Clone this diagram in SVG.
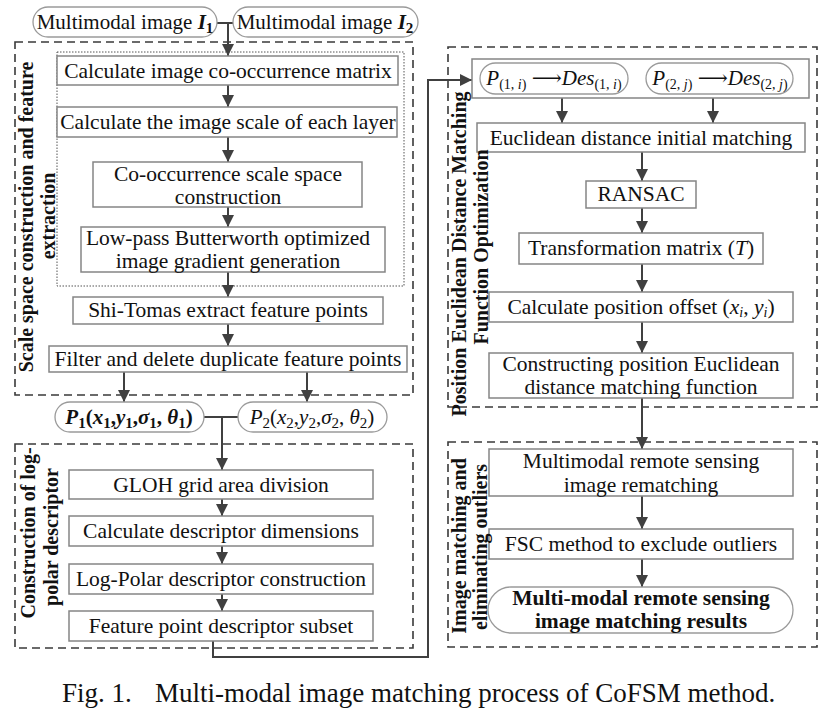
<svg xmlns="http://www.w3.org/2000/svg" width="836" height="715" viewBox="0 0 836 715" font-family="'Liberation Serif', 'DejaVu Serif', serif">
<defs>
<marker id="ah" viewBox="0 0 12 12" markerWidth="12" markerHeight="12" refX="12" refY="6" orient="auto" markerUnits="userSpaceOnUse">
<path d="M0,0 L12,6 L0,12 z" fill="#404040"/>
</marker>
<style>
text{font-family:'Liberation Serif','DejaVu Serif',serif;fill:#111;}
.t{font-size:21.5px;text-anchor:middle;}
.lbl{font-size:20px;font-weight:bold;text-anchor:middle;}
.box{fill:#fff;stroke:#858585;stroke-width:1.5;}
.pill{fill:#fff;stroke:#9a9a9a;stroke-width:1.3;}
.grp{fill:none;stroke:#3a3a3a;stroke-width:1.6;stroke-dasharray:8,5;}
.dot{fill:none;stroke:#555;stroke-width:1;stroke-dasharray:1.5,1.5;}
.c{fill:none;stroke:#404040;stroke-width:2;}
.ca{fill:none;stroke:#404040;stroke-width:2;marker-end:url(#ah);}
.bi{font-weight:bold;font-style:italic;}
.i{font-style:italic;}
</style>
</defs>

<g id="groups">
<rect class="grp" x="15" y="42" width="398" height="353"/>
<rect class="dot" x="57" y="52" width="347" height="234"/>
<rect class="grp" x="15" y="444" width="398" height="204"/>
<rect class="grp" x="448" y="47" width="369" height="360"/>
<rect class="grp" x="448" y="442" width="369" height="205"/>
</g>

<g id="connectors">
<path class="c" d="M217,23 H233"/>
<path class="ca" d="M228,23 V56"/>
<path class="ca" d="M228,85 V107"/>
<path class="ca" d="M228,137 V162"/>
<path class="ca" d="M228,207 V227"/>
<path class="ca" d="M228,272 V297"/>
<path class="ca" d="M228,324 V346"/>
<path class="ca" d="M124,372 V402"/>
<path class="ca" d="M307,372 V402"/>
<path class="c" d="M204,417 H238"/>
<path class="ca" d="M222,417 V470"/>
<path class="ca" d="M222,499 V516"/>
<path class="ca" d="M222,546 V564"/>
<path class="ca" d="M222,594 V611"/>
<path class="ca" d="M213,641 V657 H428 V80 H472"/>
<path class="ca" d="M562,98 V123"/>
<path class="ca" d="M713,98 V123"/>
<path class="ca" d="M642,152 V181"/>
<path class="ca" d="M642,208 V233"/>
<path class="ca" d="M642,264 V292"/>
<path class="ca" d="M642,322 V353"/>
<path class="ca" d="M642,398 V449"/>
<path class="ca" d="M642,496 V529"/>
<path class="ca" d="M642,559 V587"/>
</g>

<g id="img1">
<rect class="pill" x="33" y="7" width="184" height="30" rx="15"/>
<text class="t" x="125" y="29" style="font-size:21px">Multimodal image <tspan class="bi">I</tspan><tspan style="font-weight:bold;font-size:15px" dy="4">1</tspan></text>
</g>
<g id="img2">
<rect class="pill" x="233" y="7" width="185" height="30" rx="15"/>
<text class="t" x="325" y="29" style="font-size:21px">Multimodal image <tspan class="bi">I</tspan><tspan style="font-weight:bold;font-size:15px" dy="4">2</tspan></text>
</g>

<g id="n1"><rect class="box" x="57" y="56" width="341" height="29"/><text class="t" x="228" y="78">Calculate image co-occurrence matrix</text></g>
<g id="n2"><rect class="box" x="57" y="107" width="340" height="30"/><text class="t" x="228" y="129">Calculate the image scale of each layer</text></g>
<g id="n3"><rect class="box" x="93" y="162" width="269" height="45"/><text class="t" x="228" y="181">Co-occurrence scale space</text><text class="t" x="228" y="204">construction</text></g>
<g id="n4"><rect class="box" x="81" y="227" width="304" height="45"/><text class="t" x="228" y="245">Low-pass Butterworth optimized</text><text class="t" x="228" y="268">image gradient generation</text></g>
<g id="n5"><rect class="box" x="73" y="297" width="310" height="27"/><text class="t" x="228" y="317">Shi-Tomas extract feature points</text></g>
<g id="n6"><rect class="box" x="49" y="346" width="358" height="26"/><text class="t" x="228" y="366">Filter and delete duplicate feature points</text></g>

<g id="p1">
<rect class="pill" x="55" y="402" width="149" height="30" rx="15"/>
<text class="t" x="129" y="424" style="font-size:21px"><tspan class="bi">P</tspan><tspan style="font-weight:bold;font-size:15px" dy="4">1</tspan><tspan style="font-weight:bold" dy="-4">(</tspan><tspan class="bi">x</tspan><tspan style="font-weight:bold;font-size:15px" dy="4">1</tspan><tspan style="font-weight:bold" dy="-4">,</tspan><tspan class="bi">y</tspan><tspan style="font-weight:bold;font-size:15px" dy="4">1</tspan><tspan style="font-weight:bold" dy="-4">,</tspan><tspan class="bi">σ</tspan><tspan style="font-weight:bold;font-size:15px" dy="4">1</tspan><tspan style="font-weight:bold" dy="-4">, </tspan><tspan class="bi">θ</tspan><tspan style="font-weight:bold;font-size:15px" dy="4">1</tspan><tspan style="font-weight:bold" dy="-4">)</tspan></text>
</g>
<g id="p2">
<rect class="pill" x="238" y="402" width="149" height="30" rx="15"/>
<text class="t" x="312" y="424" style="font-size:21px"><tspan class="i">P</tspan><tspan style="font-size:15px" dy="4">2</tspan><tspan dy="-4">(</tspan><tspan class="i">x</tspan><tspan style="font-size:15px" dy="4">2</tspan><tspan dy="-4">,</tspan><tspan class="i">y</tspan><tspan style="font-size:15px" dy="4">2</tspan><tspan dy="-4">,</tspan><tspan class="i">σ</tspan><tspan style="font-size:15px" dy="4">2</tspan><tspan dy="-4">, </tspan><tspan class="i">θ</tspan><tspan style="font-size:15px" dy="4">2</tspan><tspan dy="-4">)</tspan></text>
</g>

<g id="d1"><rect class="box" x="69" y="470" width="304" height="29"/><text class="t" x="221" y="492">GLOH grid area division</text></g>
<g id="d2"><rect class="box" x="69" y="516" width="304" height="30"/><text class="t" x="221" y="538">Calculate descriptor dimensions</text></g>
<g id="d3"><rect class="box" x="69" y="564" width="304" height="30"/><text class="t" x="221" y="586">Log-Polar descriptor construction</text></g>
<g id="d4"><rect class="box" x="69" y="611" width="304" height="30"/><text class="t" x="221" y="633">Feature point descriptor subset</text></g>

<g id="des">
<rect class="box" x="472" y="59" width="337" height="39"/>
<rect class="pill" x="480" y="63" width="148" height="31" rx="15.5"/>
<text class="t" x="554" y="85" style="font-size:21px"><tspan class="i">P</tspan><tspan style="font-size:14px" dy="4">(1, <tspan class="i">i</tspan>)</tspan><tspan dy="-4"> ⟶</tspan><tspan class="i">Des</tspan><tspan style="font-size:14px" dy="4">(1, <tspan class="i">i</tspan>)</tspan></text>
<rect class="pill" x="646" y="63" width="147" height="31" rx="15.5"/>
<text class="t" x="720" y="85" style="font-size:21px"><tspan class="i">P</tspan><tspan style="font-size:14px" dy="4">(2, <tspan class="i">j</tspan>)</tspan><tspan dy="-4"> ⟶</tspan><tspan class="i">Des</tspan><tspan style="font-size:14px" dy="4">(2, <tspan class="i">j</tspan>)</tspan></text>
</g>

<g id="m1"><rect class="box" x="477" y="123" width="328" height="29"/><text class="t" x="641" y="145">Euclidean distance initial matching</text></g>
<g id="m2"><rect class="box" x="586" y="181" width="110" height="27"/><text class="t" x="641" y="201">RANSAC</text></g>
<g id="m3"><rect class="box" x="519" y="233" width="244" height="31"/><text class="t" x="641" y="255">Transformation matrix (<tspan class="i">T</tspan>)</text></g>
<g id="m4"><rect class="box" x="489" y="292" width="304" height="30"/><text class="t" x="641" y="314">Calculate position offset (<tspan class="i">x</tspan><tspan class="i" style="font-size:14px" dy="3">i</tspan><tspan dy="-3">, </tspan><tspan class="i">y</tspan><tspan class="i" style="font-size:14px" dy="3">i</tspan><tspan dy="-3">)</tspan></text></g>
<g id="m5"><rect class="box" x="489" y="353" width="304" height="45"/><text class="t" x="641" y="371">Constructing position Euclidean</text><text class="t" x="641" y="394">distance matching function</text></g>

<g id="r1"><rect class="box" x="489" y="449" width="304" height="47"/><text class="t" x="641" y="468">Multimodal remote sensing</text><text class="t" x="641" y="492">image rematching</text></g>
<g id="r2"><rect class="box" x="489" y="529" width="304" height="30"/><text class="t" x="641" y="551">FSC method to exclude outliers</text></g>
<g id="r3"><rect class="pill" x="488" y="587" width="305" height="46" rx="23"/><text class="t" x="641" y="605" style="font-weight:bold">Multi-modal remote sensing</text><text class="t" x="641" y="628" style="font-weight:bold">image matching results</text></g>

<g id="labels">
<text class="lbl" transform="translate(33,217) rotate(-90)">Scale space construction and feature</text>
<text class="lbl" transform="translate(55,216) rotate(-90)">extraction</text>
<text class="lbl" transform="translate(35,533) rotate(-90)">Construction of log-</text>
<text class="lbl" transform="translate(58,537) rotate(-90)">polar descriptor</text>
<text class="lbl" transform="translate(466,254) rotate(-90)">Position Euclidean Distance Matching</text>
<text class="lbl" transform="translate(488,247) rotate(-90)">Function Optimization</text>
<text class="lbl" transform="translate(466,546) rotate(-90)">Image matching and</text>
<text class="lbl" transform="translate(487,547) rotate(-90)">eliminating outliers</text>
</g>

<text x="62" y="702" style="font-size:27px">Fig. 1.</text>
<text x="155" y="702" style="font-size:27px">Multi-modal image matching process of CoFSM method.</text>
</svg>
